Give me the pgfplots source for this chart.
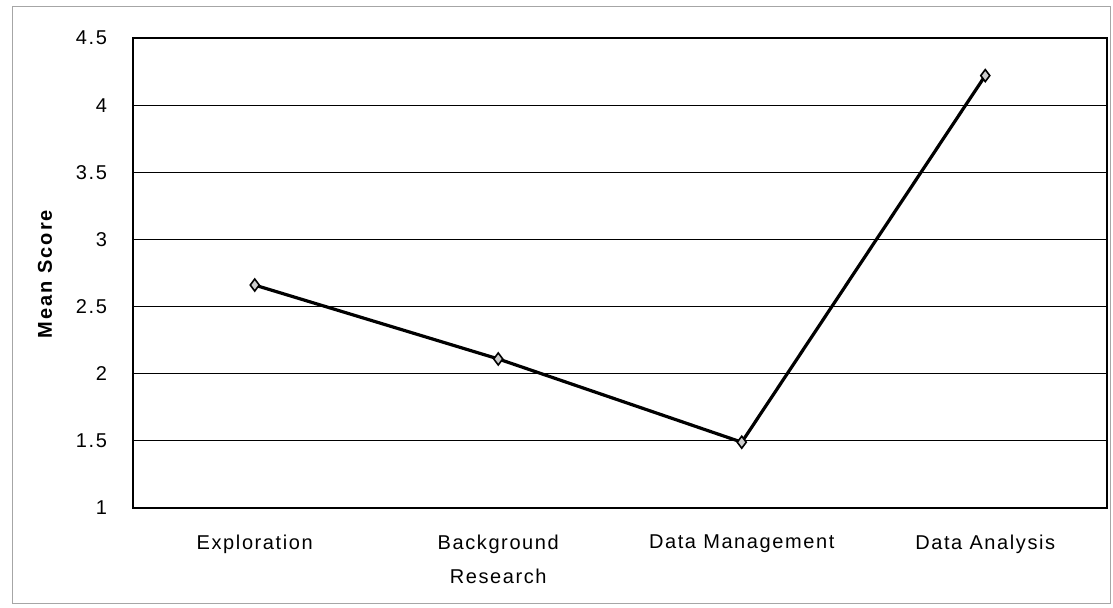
\documentclass[border=0pt]{standalone}
\usepackage{pgfplots}
\pgfplotsset{compat=1.18}
\usepackage{fontspec}
\setmainfont{Liberation Sans}
\newfontfamily\spaced[LetterSpace=8]{Liberation Sans}
\newfontfamily\spacedlab[LetterSpace=10]{Liberation Sans}
\newcommand{\ph}{\vphantom{Ag}}
\begin{document}
\begin{tikzpicture}
\useasboundingbox (-66.5pt,-50pt) rectangle (490pt,254pt);
\draw[gray!70, line width=0.5pt] (-60pt,-48pt) rectangle (488.5pt,250.5pt);
\begin{axis}[
  scale only axis,
  width=487pt, height=235pt,
  at={(0,0)}, anchor=south west,
  xmin=0, xmax=4, ymin=1, ymax=4.5,
  xtick={0.5,1.5,2.5,3.5},
  xticklabels={\ph Exploration,{\ph Background\\\ph Research},\ph Data Management,\ph Data Analysis},
  extra x ticks={1,2,3},
  extra x tick labels={},
  extra x tick style={grid=none, major tick length=3pt, tick align=outside},
  ytick={1,1.5,2,2.5,3,3.5,4,4.5},
  yticklabels={1,1.5,2,2.5,3,3.5,4,4.5},
  x tick label style={align=center, font=\spaced\fontsize{10}{17}\selectfont, yshift=-10pt, text depth=0pt},
  y tick label style={font=\spaced\fontsize{10}{11}\selectfont, xshift=-9.5pt},
  major x tick style={draw=none},
  ytick style={draw=none},
  ymajorgrids,
  grid style={black, line width=0.5pt},
  axis line style={black, line width=0.8pt},
  clip=false,
]
\addplot[black, line width=1.6pt, mark=diamond*, mark size=3pt,
  mark options={fill=gray!40, draw=black, line width=0.8pt}]
  coordinates {(0.5,2.66) (1.5,2.11) (2.5,1.49) (3.5,4.22)};
\end{axis}
\node[rotate=90, font=\spacedlab\bfseries\fontsize{10}{12}\selectfont] at (-44pt,117pt) {Mean Score};
\end{tikzpicture}
\end{document}
